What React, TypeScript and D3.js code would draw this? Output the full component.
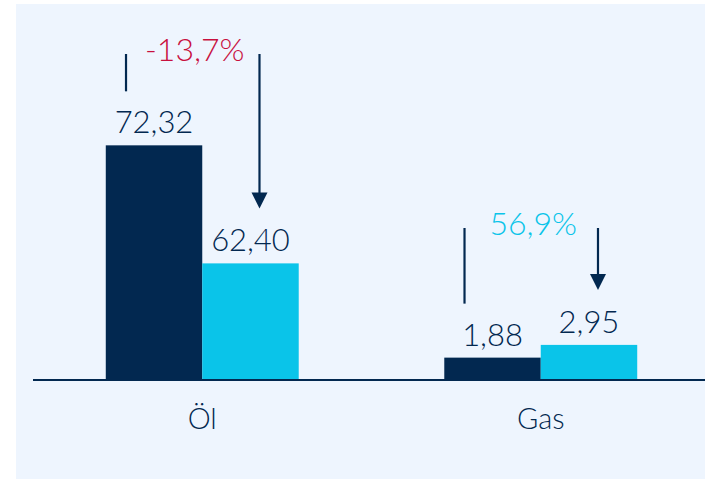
import React from "react";
import * as d3 from "d3";

const categories = ["Öl", "Gas"];
const seriesPrev = [72.32, 1.88];
const seriesCurr = [62.4, 2.95];
// truncated value axis start per category (oil axis is broken)
const axisStart = [52.6, 0];

const W = 705;
const H = 479;
const NAVY = "#022850";
const CYAN = "#0ac4e9";
const RED = "#c8103e";
const BG = "#eef5fe";
const FONT = "Lato, 'Open Sans', sans-serif";

const fmt = (v: number) => d3.format(".2f")(v).replace(".", ",");
const fmtPct = (v: number) => d3.format(".1%")(v).replace(".", ",").replace("−", "-");

export default function App() {
  const baseY = 380;
  const x = d3.scaleBand<string>().domain(categories).range([33, 710]).paddingInner(0.43).paddingOuter(0.215);
  const xs = d3.scaleBand<string>().domain(["prev", "curr"]).range([0, x.bandwidth()]);
  const y = d3.scaleLinear().domain([0, 20]).range([baseY, baseY - 238]);
  const annTop = [54, 228];

  return (
    <svg width={W} height={H} style={{ position: "absolute", left: 0, top: 0 }} fontFamily={FONT} fontWeight={300}>
      <rect x={16} y={4} width={W - 16} height={H - 4} fill={BG} />
      {categories.map((c, i) => {
        const x0 = x(c)!;
        const vals = [seriesPrev[i], seriesCurr[i]];
        const keys = ["prev", "curr"];
        const tops = vals.map((v) => y(v - axisStart[i]));
        const centers = keys.map((k) => x0 + xs(k)! + xs.bandwidth() / 2);
        const pct = (seriesCurr[i] - seriesPrev[i]) / seriesPrev[i];
        const lineX = centers[0] - 28;
        const arrowX = centers[1] + 9;
        const tip = tops[1] - 12 - 23 - 20;
        return (
          <g key={c}>
            {vals.map((v, j) => (
              <g key={j}>
                <rect
                  x={x0 + xs(keys[j])!}
                  y={tops[j]}
                  width={xs.bandwidth()}
                  height={baseY - tops[j]}
                  fill={j === 0 ? NAVY : CYAN}
                />
                <text x={centers[j]} y={tops[j] - 12} textAnchor="middle" fontSize={31} fill={NAVY}>
                  {fmt(v)}
                </text>
              </g>
            ))}
            <line x1={lineX} x2={lineX} y1={annTop[i]} y2={tops[0] - 12 - 23 - 19} stroke={NAVY} strokeWidth={2.2} />
            <line x1={arrowX} x2={arrowX} y1={annTop[i]} y2={tip - 14} stroke={NAVY} strokeWidth={2.2} />
            <path d={`M${arrowX - 8},${tip - 16}L${arrowX + 8},${tip - 16}L${arrowX},${tip}Z`} fill={NAVY} />
            <text
              x={(lineX + arrowX) / 2 + 2}
              y={annTop[i] + 7}
              textAnchor="middle"
              fontSize={32}
              fill={pct < 0 ? RED : CYAN}
            >
              {fmtPct(pct)}
            </text>
            <text x={x0 + x.bandwidth() / 2} y={429} textAnchor="middle" fontSize={29} fill={NAVY}>
              {c}
            </text>
          </g>
        );
      })}
      <line x1={33} x2={W} y1={baseY} y2={baseY} stroke={NAVY} strokeWidth={2} />
    </svg>
  );
}
